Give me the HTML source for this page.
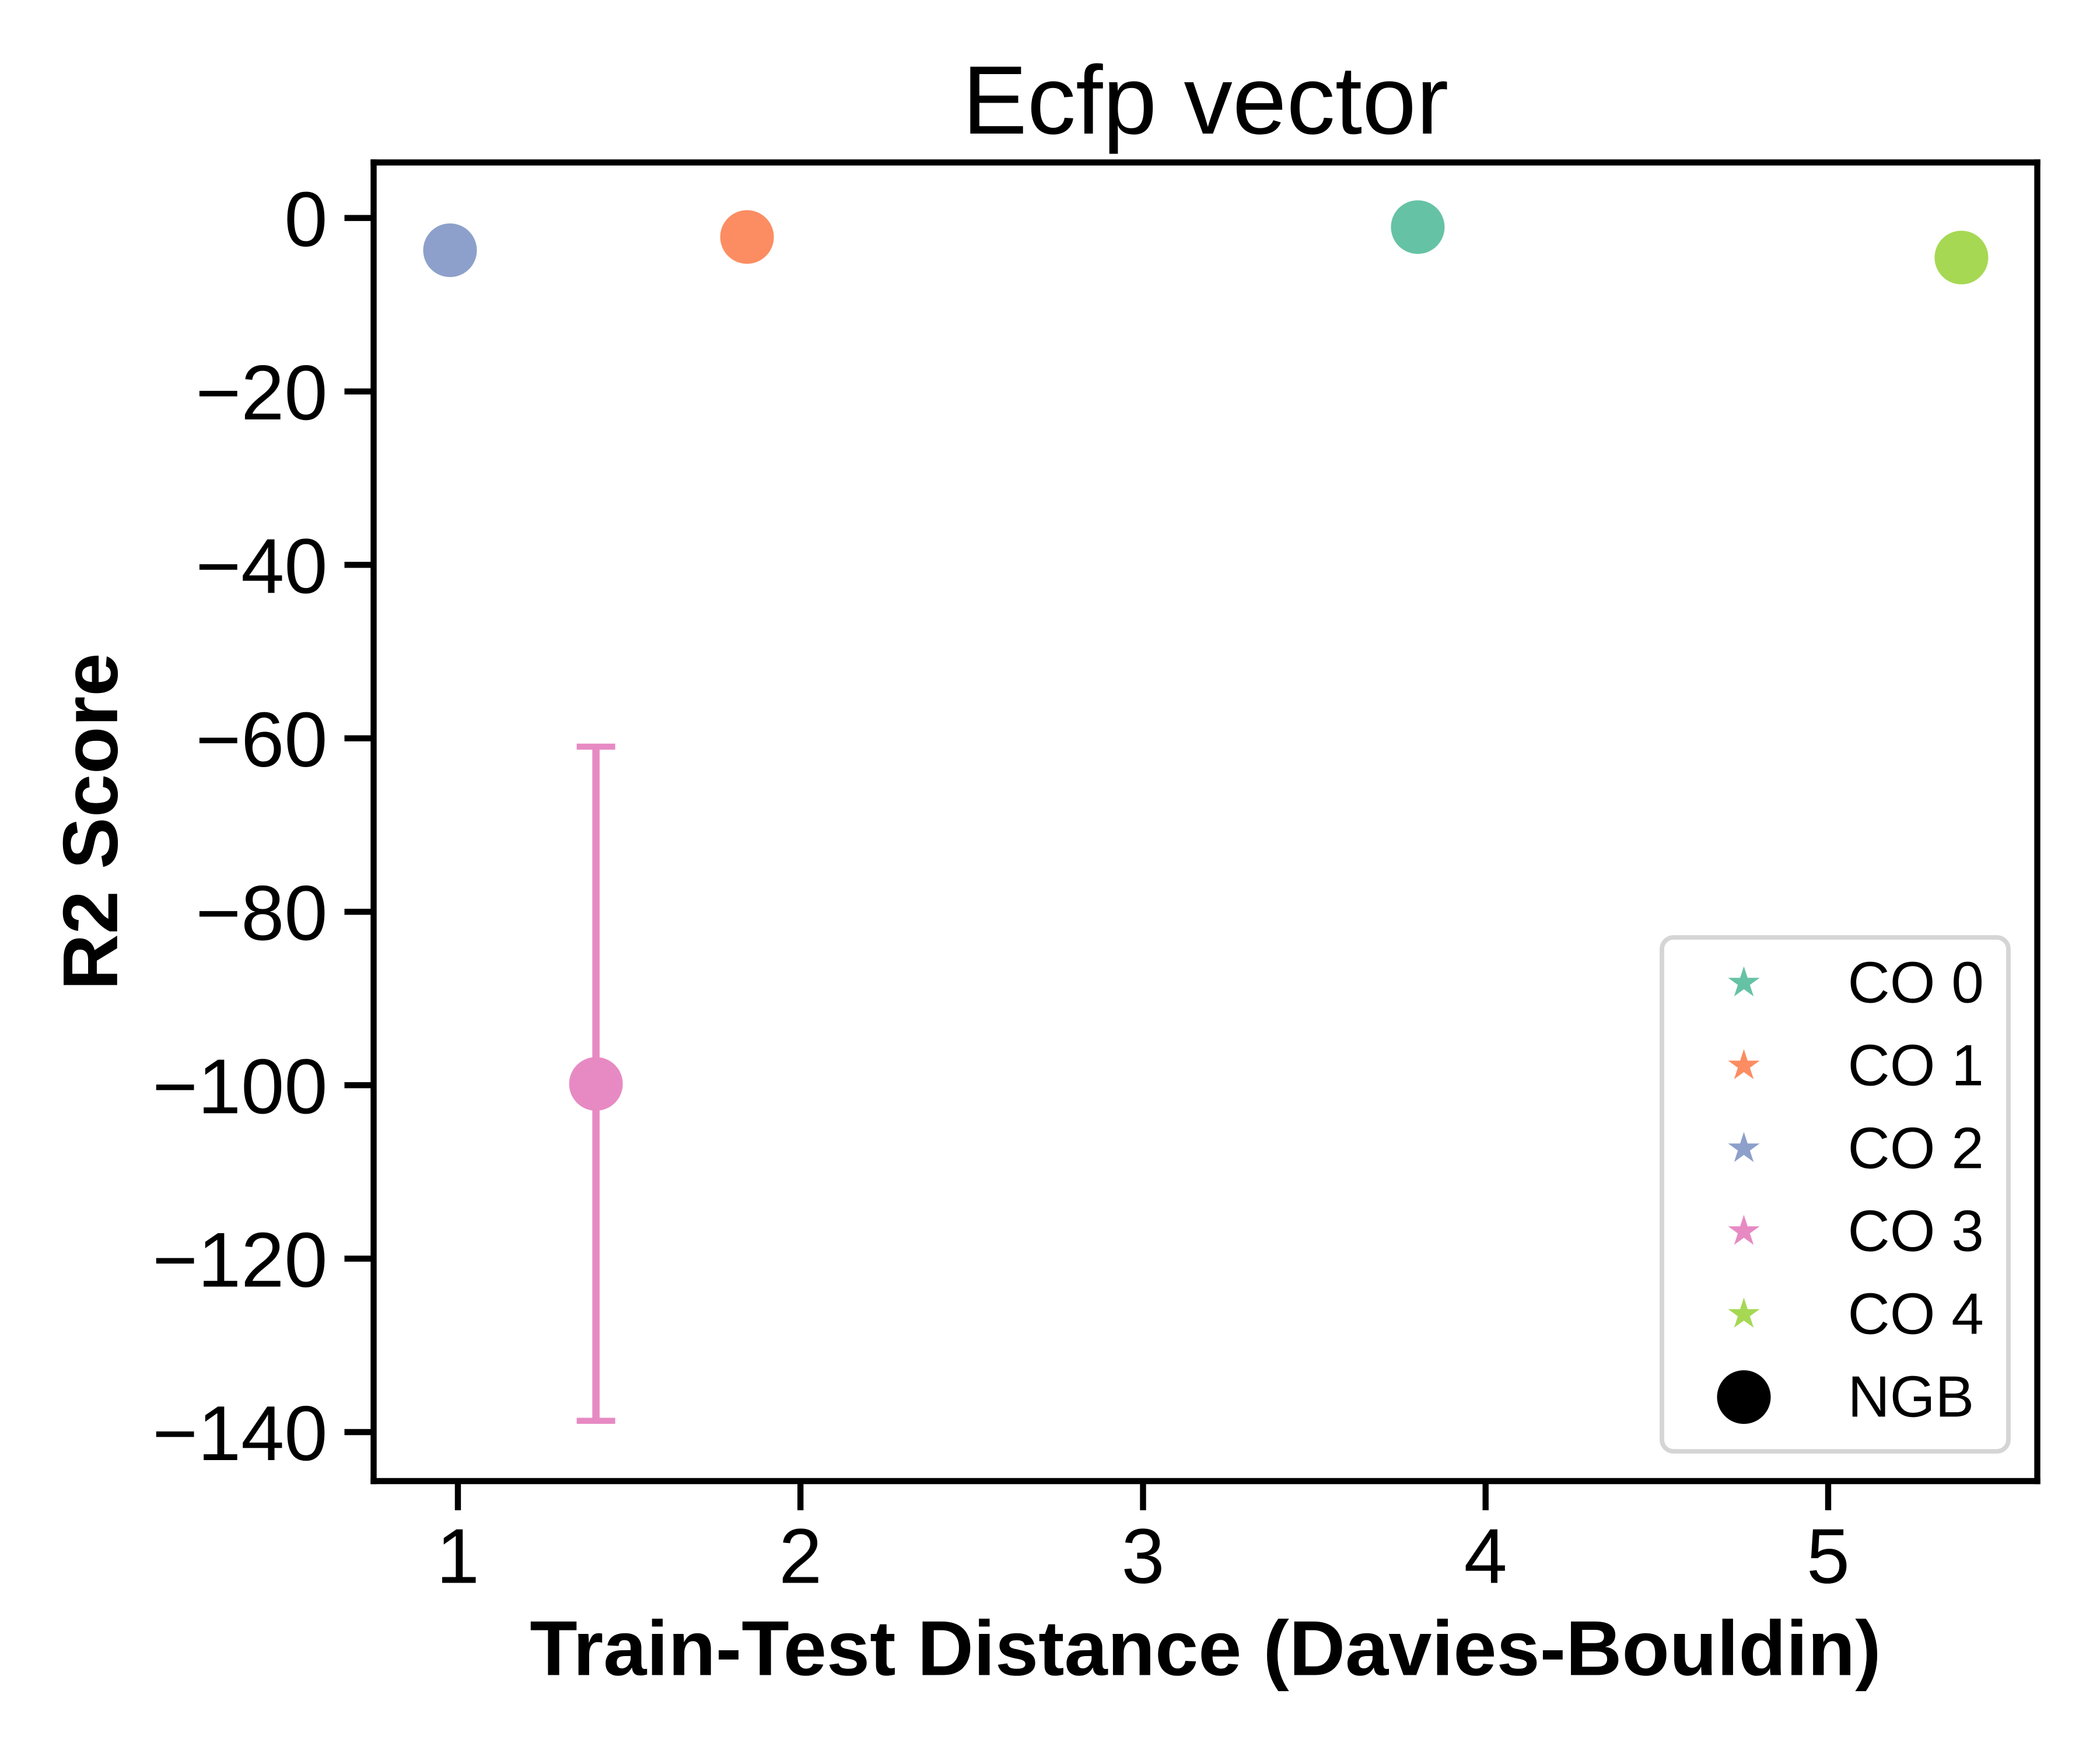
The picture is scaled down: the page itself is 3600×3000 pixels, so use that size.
<!DOCTYPE html>
<html lang="en">
<head>
<meta charset="utf-8">
<title>Ecfp vector</title>
<style>
html,body{margin:0;padding:0;background:#fff;width:3600px;height:3000px;overflow:hidden}
svg{display:block}
text{font-family:"Liberation Sans",Arial,sans-serif;fill:#000;text-rendering:geometricPrecision;font-kerning:normal}
</style>
</head>
<body>
<svg id="chart" xmlns="http://www.w3.org/2000/svg" width="3600" height="3000" viewBox="0 0 3600 3000">
  <rect x="0" y="0" width="3600" height="3000" fill="#ffffff"/>
  <text x="2066.5" y="229" font-size="166.67" text-anchor="middle">Ecfp vector</text>
  <text x="2066.5" y="2871.5" font-size="133.33" font-weight="700" text-anchor="middle">Train-Test Distance (Davies-Bouldin)</text>
  <text transform="translate(200.8 1408.5) rotate(-90)" font-size="133.33" font-weight="700" text-anchor="middle">R2 Score</text>
  <g id="ticks"></g>
  <g id="marks"></g>
  <g id="spines"></g>
  <g id="legend"></g>
</svg>
<script>
// Chart data
const seriesNames = ['CO 0', 'CO 1', 'CO 2', 'CO 3', 'CO 4'];
const seriesColors = ['#66c2a5', '#fc8d62', '#8da0cb', '#e78ac3', '#a6d854'];
const seriesX = [3.802, 1.844, 0.977, 1.403, 5.389];
const seriesY = [-1.05, -2.19, -3.72, -99.85, -4.56];
const errorLow = [-1.05, -2.19, -3.72, -138.7, -4.56];
const errorHigh = [-1.05, -2.19, -3.72, -60.96, -4.56];
const xTickValues = [1, 2, 3, 4, 5];
const yTickValues = [0, -20, -40, -60, -80, -100, -120, -140];
const modelName = 'NGB';

const NS = 'http://www.w3.org/2000/svg';
const plotLeft = 640.5, plotRight = 3492.5, plotTop = 278.5, plotBottom = 2539;
const xMin = 0.754, xMax = 5.6105, yMin = -145.65, yMax = 6.404;

function xScale(v) { return plotLeft + (v - xMin) / (xMax - xMin) * (plotRight - plotLeft); }
function yScale(v) { return plotTop + (yMax - v) / (yMax - yMin) * (plotBottom - plotTop); }
function mk(tag, attrs, parent, text) {
  const n = document.createElementNS(NS, tag);
  for (const k in attrs) n.setAttribute(k, attrs[k]);
  if (text !== undefined) n.textContent = text;
  parent.appendChild(n);
  return n;
}
function starPoints(cx, cy, r) {
  const pts = [];
  for (let i = 0; i < 10; i++) {
    const rad = i % 2 === 0 ? r : r * 0.381966;
    const a = -Math.PI / 2 + i * Math.PI / 5;
    pts.push((cx + rad * Math.cos(a)).toFixed(2) + ',' + (cy + rad * Math.sin(a)).toFixed(2));
  }
  return pts.join(' ');
}

const ticksG = document.getElementById('ticks');
const marksG = document.getElementById('marks');
const spinesG = document.getElementById('spines');
const legendG = document.getElementById('legend');

// X axis ticks
xTickValues.forEach(function (v) {
  const px = xScale(v);
  const t = mk('line', {x1: px, x2: px, y1: plotBottom, y2: plotBottom + 50, stroke: '#000', 'stroke-width': 10.4}, ticksG);
  
  
  const l = mk('text', {x: px, y: 2713.5, 'font-size': 133.33, 'text-anchor': 'middle'}, ticksG, String(v));
  
  
});

// Y axis ticks
yTickValues.forEach(function (v) {
  const py = yScale(v);
  const t = mk('line', {x1: plotLeft - 50, x2: plotLeft, y1: py, y2: py, stroke: '#000', 'stroke-width': 10.4}, ticksG);
  
  
  const l = mk('text', {x: 561.5, y: py + 48, 'font-size': 133.33, 'text-anchor': 'end'}, ticksG, String(v).replace('-', '\u2212'));
  
  
});

// Series: error bars and points
seriesNames.forEach(function (name, i) {
  const slug = name.toLowerCase().replace(' ', '-');
  const px = xScale(seriesX[i]);
  if (errorLow[i] !== errorHigh[i]) {
    const bar = mk('line', {x1: px, x2: px, y1: yScale(errorHigh[i]), y2: yScale(errorLow[i]), stroke: seriesColors[i], 'stroke-width': 12.5}, marksG);
    
    
    const capTop = mk('line', {x1: px - 33, x2: px + 33, y1: yScale(errorHigh[i]), y2: yScale(errorHigh[i]), stroke: seriesColors[i], 'stroke-width': 10.4}, marksG);
    
    
    const capBottom = mk('line', {x1: px - 33, x2: px + 33, y1: yScale(errorLow[i]), y2: yScale(errorLow[i]), stroke: seriesColors[i], 'stroke-width': 10.4}, marksG);
    
    
  }
  const dot = mk('circle', {cx: px, cy: yScale(seriesY[i]), r: 46, fill: seriesColors[i]}, marksG);
  
  
});

// Spines
[
  ['left', plotLeft, plotTop, plotLeft, plotBottom],
  ['right', plotRight, plotTop, plotRight, plotBottom],
  ['top', plotLeft, plotTop, plotRight, plotTop],
  ['bottom', plotLeft, plotBottom, plotRight, plotBottom]
].forEach(function (s) {
  const sp = mk('line', {x1: s[1], y1: s[2], x2: s[3], y2: s[4], stroke: '#000', 'stroke-width': 10.4, 'stroke-linecap': 'square'}, spinesG);
  
  
});

// Legend
const legendFrame = mk('rect', {x: 2849, y: 1607, width: 594, height: 881, rx: 20, ry: 20, fill: '#fff', stroke: '#d5d5d5', 'stroke-width': 7.8}, legendG);


const legendMarkerX = 2989.5, legendFirstRow = 1685, legendRowGap = 142, legendTextX = 3167.5;
seriesNames.forEach(function (name, i) {
  const slug = name.toLowerCase().replace(' ', '-');
  const cy = legendFirstRow + i * legendRowGap;
  const star = mk('polygon', {points: starPoints(legendMarkerX, cy, 28.5), fill: seriesColors[i]}, legendG);
  
  
  const label = mk('text', {x: legendTextX, y: cy + 33.5, 'font-size': 100}, legendG, name);
  
  
});
const modelY = legendFirstRow + seriesNames.length * legendRowGap;
const modelDot = mk('circle', {cx: legendMarkerX, cy: modelY, r: 46, fill: '#000'}, legendG);


const modelLabel = mk('text', {x: legendTextX, y: modelY + 33.5, 'font-size': 100}, legendG, modelName);


</script>
</body>
</html>
